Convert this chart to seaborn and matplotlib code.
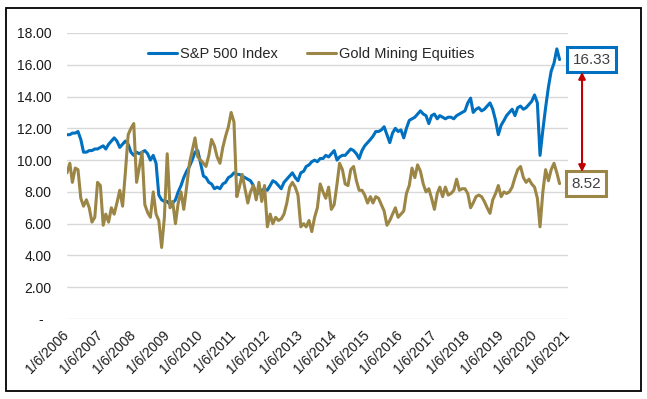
import numpy as np
import pandas as pd
import matplotlib
matplotlib.use('Agg')
import matplotlib.pyplot as plt
import matplotlib.transforms as mtransforms
from matplotlib.patches import Rectangle
import seaborn as sns

# monthly readings, Jan 2006 .. Oct 2020
sp500 = [
    11.6, 11.6, 11.7, 11.7, 11.8, 11.3, 10.5, 10.5, 10.6, 10.6, 10.7, 10.7,  # 2006
    10.8, 10.9, 10.7, 11.0, 11.2, 11.4, 11.2, 10.8, 11.0, 11.2, 11.0, 10.5,  # 2007
    10.3, 10.5, 10.4, 10.5, 10.6, 10.4, 10.0, 10.3, 9.8, 7.8, 7.5, 7.4,      # 2008
    7.4, 7.2, 7.3, 7.5, 8.0, 8.4, 8.9, 9.3, 9.6, 10.0, 10.5, 10.6,          # 2009
    9.8, 9.0, 8.9, 8.6, 8.5, 8.2, 8.3, 8.2, 8.5, 8.6, 8.9, 9.0,             # 2010
    9.2, 9.1, 9.1, 9.0, 8.9, 8.8, 8.7, 8.4, 7.8, 8.0, 8.1, 8.2,             # 2011
    8.1, 8.4, 8.7, 8.6, 8.4, 8.2, 8.6, 8.8, 9.0, 9.2, 8.9, 8.7,             # 2012
    9.2, 9.3, 9.6, 9.7, 9.9, 10.0, 9.9, 10.1, 10.1, 10.3, 10.2, 10.4,       # 2013
    10.6, 10.0, 10.2, 10.3, 10.3, 10.5, 10.7, 10.6, 10.4, 10.1, 10.6, 10.9, # 2014
    11.1, 11.3, 11.5, 11.8, 11.8, 11.9, 12.1, 11.6, 11.1, 11.7, 12.0, 11.8, # 2015
    11.9, 11.4, 12.0, 12.5, 12.6, 12.7, 12.9, 13.1, 12.9, 12.8, 12.3, 12.8, # 2016
    12.9, 12.6, 12.8, 12.7, 12.6, 12.7, 12.7, 12.6, 12.8, 12.9, 13.0, 13.1, # 2017
    13.6, 13.9, 13.0, 13.2, 13.3, 13.1, 13.2, 13.4, 13.6, 13.2, 12.5, 11.6, # 2018
    12.2, 12.5, 12.8, 13.0, 13.2, 12.8, 13.3, 13.4, 13.2, 13.3, 13.5, 13.7, # 2019
    14.1, 13.6, 10.3, 11.9, 13.3, 14.6, 15.6, 16.1, 17.0, 16.33,            # 2020
]
gold = [
    9.2, 9.8, 8.6, 9.5, 9.4, 7.6, 7.1, 7.5, 7.0, 6.1, 6.4, 8.6,             # 2006
    8.4, 5.9, 6.6, 6.1, 7.0, 6.6, 7.3, 8.1, 7.1, 9.2, 11.6, 12.0,           # 2007
    12.3, 8.6, 9.5, 10.5, 7.2, 6.7, 6.4, 8.0, 6.6, 6.2, 4.5, 6.4,           # 2008
    10.4, 7.0, 7.4, 6.0, 7.3, 8.0, 6.9, 8.3, 9.8, 10.6, 11.4, 10.2,         # 2009
    10.0, 9.8, 9.6, 10.3, 11.3, 10.9, 10.2, 9.8, 10.8, 11.5, 12.1, 13.0,    # 2010
    12.4, 7.7, 8.3, 9.1, 8.2, 7.3, 8.0, 8.4, 7.5, 8.6, 7.4, 8.4,            # 2011
    5.8, 6.6, 6.0, 6.4, 6.2, 6.3, 6.6, 7.3, 8.3, 8.6, 8.3, 7.8,             # 2012
    5.8, 6.0, 5.8, 6.2, 5.5, 6.4, 7.0, 8.5, 8.0, 7.6, 8.3, 6.9,             # 2013
    7.2, 8.5, 9.8, 9.4, 8.5, 8.4, 9.4, 9.6, 8.7, 8.1, 8.1, 7.8,             # 2014
    7.3, 7.7, 7.3, 7.7, 7.6, 7.2, 6.8, 5.9, 6.2, 6.6, 7.0, 6.4,             # 2015
    6.6, 6.8, 7.9, 8.4, 9.5, 8.9, 9.7, 9.3, 8.5, 8.0, 8.2, 7.6,             # 2016
    6.9, 7.9, 8.3, 7.7, 8.3, 7.8, 7.9, 8.1, 8.8, 8.1, 8.2, 8.2,             # 2017
    7.9, 7.0, 7.3, 7.7, 7.8, 7.7, 7.4, 7.0, 6.65, 7.5, 7.9, 8.4,            # 2018
    7.7, 8.0, 7.9, 8.0, 8.3, 8.9, 9.4, 9.6, 8.9, 8.6, 8.8, 8.5,             # 2019
    8.3, 7.6, 5.8, 8.0, 9.4, 8.7, 9.4, 9.8, 9.2, 8.52,                      # 2020
]
series_names = ['S&P 500 Index', 'Gold Mining Equities']
tick_years = list(range(2006, 2022))
y_ticks = [0, 2, 4, 6, 8, 10, 12, 14, 16, 18]
y_labels = ['-  '] + ['%.2f' % v for v in y_ticks[1:]]

blue = '#0070C0'
goldc = '#9C8646'

dates = pd.date_range('2006-01-01', periods=len(sp500), freq='MS') + pd.Timedelta(days=5)
df = pd.concat([
    pd.DataFrame({'date': dates, 'value': sp500, 'series': series_names[0]}),
    pd.DataFrame({'date': dates, 'value': gold, 'series': series_names[1]}),
])

sns.set_style('white')
plt.rcParams['font.family'] = ['Liberation Sans', 'DejaVu Sans']

fig = plt.figure(figsize=(6.47, 3.99), dpi=100)
ax = fig.add_axes([67 / 647, 1 - 319 / 399, 501 / 647, 286 / 399])

sns.lineplot(data=df, x='date', y='value', hue='series', hue_order=series_names,
             palette={series_names[0]: blue, series_names[1]: goldc},
             linewidth=2.2, ax=ax)

ax.set_xlim(pd.Timestamp('2006-01-06'), pd.Timestamp('2021-01-06'))
ax.set_ylim(0, 18)
ax.set_yticks(y_ticks)
ax.set_yticklabels(y_labels)
xt = [pd.Timestamp(year=y, month=1, day=6) for y in tick_years]
ax.set_xticks(xt)
ax.set_xticklabels(['1/6/%d' % y for y in tick_years], rotation=45, ha='right',
                   va='center', rotation_mode='anchor')
ax.tick_params(axis='both', length=0, labelsize=10, colors='#1a1a1a')
ax.tick_params(axis='y', pad=11)
ax.tick_params(axis='x', pad=10)
ax.set_xlabel('')
ax.set_ylabel('')
for s in ax.spines.values():
    s.set_visible(False)
ax.yaxis.grid(True, color='#D9D9D9', linewidth=1)
ax.xaxis.grid(False)
ax.set_axisbelow(True)

ax.legend(loc='center', bbox_to_anchor=(0.487, 0.927), ncol=2, frameon=False,
          fontsize=10.5, handlelength=2.0, handletextpad=0.2, columnspacing=2.0)

trans = mtransforms.blended_transform_factory(ax.transAxes, ax.transData)
ax.text(1.047, sp500[-1], '%.2f' % sp500[-1], transform=trans, ha='center', va='center',
        fontsize=11, color='#404040', clip_on=False,
        bbox=dict(boxstyle='square,pad=0.35', fc='white', ec=blue, lw=2.2))
ax.text(1.036, gold[-1], '%.2f' % gold[-1], transform=trans, ha='center', va='center',
        fontsize=11, color='#404040', clip_on=False,
        bbox=dict(boxstyle='square,pad=0.35', fc='white', ec=goldc, lw=2.2))
ax.annotate('', xy=(1.028, 9.25), xytext=(1.028, 15.55),
            xycoords=trans, textcoords=trans,
            arrowprops=dict(arrowstyle='<|-|>', color='#C00000', lw=1.5,
                            mutation_scale=10, shrinkA=0, shrinkB=0),
            annotation_clip=False)

fig.patches.append(Rectangle((6 / 647, 1 - 391 / 399), 635 / 647, 383 / 399,
                             transform=fig.transFigure, fill=False,
                             edgecolor='black', linewidth=1.3))

fig.savefig('out.png', dpi=100)
